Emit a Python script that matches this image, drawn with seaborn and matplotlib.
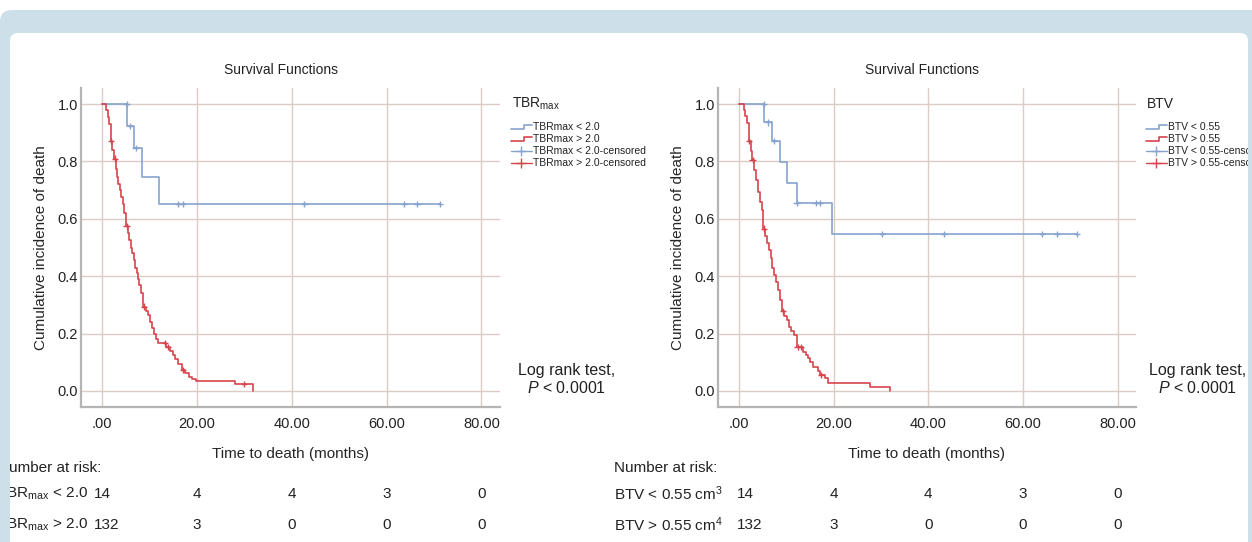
import matplotlib
matplotlib.use('Agg')
import matplotlib.pyplot as plt
import seaborn as sns
import pandas as pd
from matplotlib.lines import Line2D
from matplotlib.patches import FancyBboxPatch, Rectangle
from matplotlib.legend_handler import HandlerBase
from matplotlib.transforms import IdentityTransform, blended_transform_factory

# --- data ---------------------------------------------------------------
# left panel: TBRmax
tbr_low_t = [0, 5.3, 6.7, 8.4, 12.0, 71.3]
tbr_low_s = [1.0, 0.923, 0.846, 0.746, 0.652, 0.652]
tbr_low_cens_t = [5.2, 5.9, 7.1, 16.1, 17.1, 42.7, 63.6, 66.5, 71.3]
tbr_low_cens_s = [1.0, 0.923, 0.846, 0.652, 0.652, 0.652, 0.652, 0.652, 0.652]

tbr_high_t = [0, 0.9, 1.3, 1.6, 1.9, 2.2, 2.5, 2.9, 3.2, 3.5, 3.8, 4.1, 4.4, 4.7, 5.1,
              5.5, 5.8, 6.1, 6.4, 6.7, 7.0, 7.3, 7.6, 7.9, 8.3, 8.6, 9.3, 9.7, 10.2, 10.6,
              11.0, 11.4, 11.9, 13.6, 14.4, 14.9, 15.4, 16.0, 16.9, 17.6, 18.3, 19.0, 19.8,
              28.0, 31.9]
tbr_high_s = [1.0, 0.98, 0.955, 0.93, 0.87, 0.84, 0.81, 0.775, 0.745, 0.72, 0.70, 0.675,
              0.65, 0.62, 0.576, 0.55, 0.526, 0.50, 0.48, 0.455, 0.43, 0.41, 0.39, 0.37,
              0.34, 0.294, 0.28, 0.265, 0.241, 0.22, 0.20, 0.18, 0.166, 0.154, 0.14, 0.125,
              0.11, 0.095, 0.073, 0.062, 0.05, 0.042, 0.036, 0.024, 0.0]
tbr_high_cens_t = [2.0, 2.7, 5.2, 8.8, 13.3, 14.0, 17.1, 29.9]
tbr_high_cens_s = [0.87, 0.81, 0.576, 0.294, 0.166, 0.154, 0.073, 0.024]

# right panel: BTV
btv_low_t = [0, 5.4, 7.1, 8.7, 10.1, 12.2, 19.7, 71.5]
btv_low_s = [1.0, 0.936, 0.871, 0.799, 0.726, 0.654, 0.546, 0.546]
btv_low_cens_t = [5.3, 6.2, 7.4, 12.2, 16.2, 17.2, 30.2, 43.3, 64.1, 67.2, 71.5]
btv_low_cens_s = [1.0, 0.936, 0.871, 0.654, 0.654, 0.654, 0.546, 0.546, 0.546, 0.546, 0.546]

btv_high_t = [0, 1.0, 1.4, 1.8, 2.1, 2.5, 2.8, 3.2, 3.6, 4.0, 4.4, 4.8, 5.2, 5.6, 6.0,
              6.3, 6.7, 7.1, 7.5, 7.9, 8.3, 8.7, 9.1, 9.6, 10.1, 10.6, 11.1, 11.6, 12.2,
              13.5, 14.1, 14.6, 15.1, 15.7, 16.8, 17.1, 18.2, 18.8, 27.8, 32.0]
btv_high_s = [1.0, 0.98, 0.96, 0.935, 0.87, 0.835, 0.805, 0.77, 0.735, 0.695, 0.66, 0.63,
              0.566, 0.54, 0.515, 0.49, 0.462, 0.427, 0.405, 0.38, 0.352, 0.317, 0.279,
              0.262, 0.247, 0.224, 0.21, 0.195, 0.154, 0.137, 0.125, 0.114, 0.1, 0.085,
              0.07, 0.056, 0.044, 0.029, 0.015, 0.0]
btv_high_cens_t = [2.2, 2.9, 5.4, 9.3, 12.4, 13.1, 17.3]
btv_high_cens_s = [0.87, 0.805, 0.566, 0.279, 0.154, 0.154, 0.056]

risk_times = [0, 20, 40, 60, 80]
tbr_risk_low = [14, 4, 4, 3, 0]
tbr_risk_high = [132, 3, 0, 0, 0]
btv_risk_low = [14, 4, 4, 3, 0]
btv_risk_high = [132, 3, 0, 0, 0]

x_ticks = [0, 20, 40, 60, 80]
x_tick_labels = ['.00', '20.00', '40.00', '60.00', '80.00']
y_ticks = [0.0, 0.2, 0.4, 0.6, 0.8, 1.0]

BLUE = '#86a3cd'
RED = '#d8434c'
GRID = '#dccbc6'
FRAME = '#cddfe9'
W, H = 1252, 542

sns.set_theme(style='white')
plt.rcParams['font.family'] = ['Liberation Sans', 'DejaVu Sans']
plt.rcParams['mathtext.fontset'] = 'custom'
plt.rcParams['mathtext.rm'] = 'Liberation Sans'
plt.rcParams['mathtext.it'] = 'Liberation Sans:italic'
plt.rcParams['text.color'] = '#222222'


def fx(px):
    return px / W


def fy(py):
    return 1 - py / H


class StepHandler(HandlerBase):
    # little step-shaped icon like the SPSS legend
    def create_artists(self, legend, orig_handle, xdescent, ydescent, width, height,
                       fontsize, trans):
        x0 = -xdescent
        xm = x0 + width * 0.6
        y0 = -ydescent + height * 0.2
        y1 = -ydescent + height * 0.75
        line = Line2D([x0, xm, xm, x0 + width], [y0, y0, y1, y1],
                      color=orig_handle.get_color(), lw=orig_handle.get_linewidth())
        line.set_transform(trans)
        return [line]


def steps_frame(curves):
    rows = []
    for name, ts, ss in curves:
        for t, s in zip(ts, ss):
            rows.append({'time': t, 'surv': s, 'group': name})
    return pd.DataFrame(rows)


def draw_panel(ax, low, high, low_c, high_c, names, legend_title, leg_x):
    pal = {names[0]: BLUE, names[1]: RED}
    df = steps_frame([(names[0],) + low, (names[1],) + high])
    cdf = steps_frame([(names[0],) + low_c, (names[1],) + high_c])
    sns.lineplot(data=df, x='time', y='surv', hue='group', palette=pal,
                 drawstyle='steps-post', estimator=None, sort=False,
                 linewidth=1.2, legend=False, ax=ax)
    sns.scatterplot(data=cdf, x='time', y='surv', hue='group', palette=pal,
                    marker='+', s=20, linewidth=1.0, legend=False, ax=ax, zorder=4)

    ax.set_xlim(-4.4, 83.9)
    ax.set_ylim(-0.056, 1.056)
    ax.set_xticks(x_ticks)
    ax.set_xticklabels(x_tick_labels)
    ax.set_yticks(y_ticks)
    ax.set_yticklabels([f'{v:.1f}' for v in y_ticks])
    ax.tick_params(axis='both', length=0, labelsize=10.5, colors='#222222')
    ax.tick_params(axis='x', pad=7)
    ax.tick_params(axis='y', pad=2)
    ax.grid(True, color=GRID, linewidth=1.0)
    ax.set_axisbelow(True)
    for side in ['top', 'right']:
        ax.spines[side].set_visible(False)
    for side in ['left', 'bottom']:
        ax.spines[side].set_color('#b5b5b5')
        ax.spines[side].set_linewidth(1.6)
    ax.set_xlabel('Time to death (months)', fontsize=11, labelpad=12)
    ax.set_ylabel('Cumulative incidence of death', fontsize=11, labelpad=7)

    handles = [Line2D([], [], color=BLUE, lw=1.2), Line2D([], [], color=RED, lw=1.2),
               Line2D([], [], color=BLUE, lw=1.0, marker='+', markersize=7),
               Line2D([], [], color=RED, lw=1.0, marker='+', markersize=7)]
    labels = [names[0], names[1], names[0] + '-censored', names[1] + '-censored']
    leg = ax.legend(handles, labels, loc='upper left',
                    bbox_to_anchor=(fx(leg_x), fy(122)), bbox_transform=ax.figure.transFigure,
                    frameon=False, fontsize=7.5, handlelength=2.0, handletextpad=0.15,
                    labelspacing=0.2, borderpad=0, borderaxespad=0,
                    handler_map={handles[0]: StepHandler(), handles[1]: StepHandler()})
    ax.figure.text(fx(leg_x + 1), fy(104), legend_title, fontsize=10, va='center', ha='left')
    return leg


fig = plt.figure(figsize=(W / 100, H / 100), dpi=100)
fig.patch.set_facecolor('white')

# light blue frame and white panel
fig.add_artist(FancyBboxPatch((0, -30), W + 30, H - 10 + 30,
                              boxstyle='round,pad=0,rounding_size=12',
                              transform=IdentityTransform(), facecolor=FRAME,
                              edgecolor='none', zorder=-20))
fig.add_artist(FancyBboxPatch((10, -30), 1238, H - 33 + 30,
                              boxstyle='round,pad=0,rounding_size=8',
                              transform=IdentityTransform(), facecolor='white',
                              edgecolor='none', zorder=-19))

ax1 = fig.add_axes([fx(81), fy(407), fx(419), (407 - 88) / H])
ax2 = fig.add_axes([fx(718), fy(407), fx(418), (407 - 88) / H])
for ax in (ax1, ax2):
    ax.set_facecolor('none')

draw_panel(ax1, (tbr_low_t, tbr_low_s), (tbr_high_t, tbr_high_s),
           (tbr_low_cens_t, tbr_low_cens_s), (tbr_high_cens_t, tbr_high_cens_s),
           ['TBRmax < 2.0', 'TBRmax > 2.0'], 'TBR$_{\\mathrm{max}}$', 511)
draw_panel(ax2, (btv_low_t, btv_low_s), (btv_high_t, btv_high_s),
           (btv_low_cens_t, btv_low_cens_s), (btv_high_cens_t, btv_high_cens_s),
           ['BTV < 0.55', 'BTV > 0.55'], 'BTV', 1146)

fig.text(fx(281), fy(70), 'Survival Functions', fontsize=10, ha='center', va='center')
fig.text(fx(922), fy(70), 'Survival Functions', fontsize=10, ha='center', va='center')

for cx in (567, 1198):
    fig.text(fx(cx), fy(370), 'Log rank test,', fontsize=11.5, ha='center', va='center')
    fig.text(fx(cx), fy(388), '$P$ < 0.0001', fontsize=11.5, ha='center', va='center')

# number at risk tables
head_y = 468
row_y = [494, 525]
fig.text(fx(101), fy(head_y), 'Number at risk:', fontsize=11, ha='right', va='center')
fig.text(fx(614), fy(head_y), 'Number at risk:', fontsize=11, ha='left', va='center')
tbr_row_labels = ['TBR$_{\\mathrm{max}}$ < 2.0', 'TBR$_{\\mathrm{max}}$ > 2.0']
btv_row_labels = ['BTV < 0.55 cm$^{3}$', 'BTV > 0.55 cm$^{4}$']
for yy, lab in zip(row_y, tbr_row_labels):
    fig.text(fx(88), fy(yy), lab, fontsize=11, ha='right', va='center')
for yy, lab in zip(row_y, btv_row_labels):
    fig.text(fx(614), fy(yy), lab, fontsize=11, ha='left', va='center')

for ax, first_x, rows in [(ax1, 94, [tbr_risk_low, tbr_risk_high]),
                          (ax2, 737, [btv_risk_low, btv_risk_high])]:
    tr = blended_transform_factory(ax.transData, fig.transFigure)
    for yy, counts in zip(row_y, rows):
        fig.text(fx(first_x), fy(yy), str(counts[0]), fontsize=11, ha='left', va='center')
        for t, n in zip(risk_times[1:], counts[1:]):
            ax.text(t, fy(yy), str(n), transform=tr, fontsize=11, ha='center',
                    va='center', clip_on=False)

# blue strips on the sides hide text that runs past the panel edge
fig.add_artist(Rectangle((0, 0), 10, H - 20, transform=IdentityTransform(),
                         facecolor=FRAME, edgecolor='none', zorder=20))
fig.add_artist(Rectangle((1248, 0), 10, H - 20, transform=IdentityTransform(),
                         facecolor=FRAME, edgecolor='none', zorder=20))

fig.savefig('out.png', dpi=100, facecolor=fig.get_facecolor())
